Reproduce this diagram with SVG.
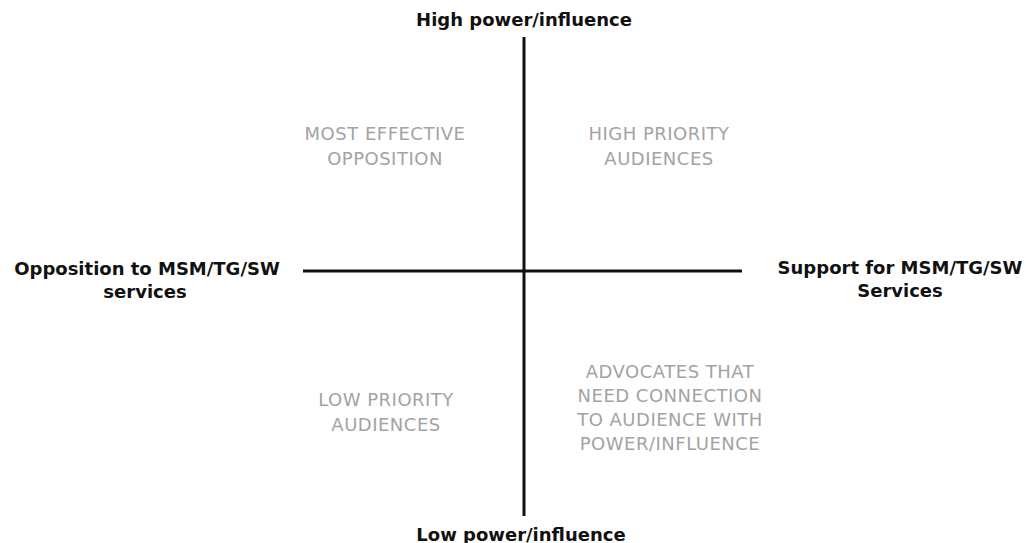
<svg xmlns="http://www.w3.org/2000/svg" width="1026" height="543" viewBox="0 0 1026 543">
<style>
.ax{font-family:"DejaVu Sans","Liberation Sans",sans-serif;font-weight:bold;font-size:18px;fill:#111;text-anchor:middle}
.q{font-family:"DejaVu Sans","Liberation Sans",sans-serif;font-size:18px;fill:#a3a3a3;text-anchor:middle;letter-spacing:0.5px}
.line{stroke:#111;stroke-width:3;fill:none}
</style>
<rect width="1026" height="543" fill="#fff"/>
<g id="connectors">
<line class="line" x1="524" y1="37" x2="524" y2="516"/>
<line class="line" x1="303" y1="271" x2="742" y2="271"/>
</g>
<g id="top-label"><text class="ax" x="524" y="26">High power/influence</text></g>
<g id="bottom-label"><text class="ax" x="521" y="541">Low power/influence</text></g>
<g id="left-label"><text class="ax" x="147" y="275">Opposition to MSM/TG/SW</text><text class="ax" x="145" y="298">services</text></g>
<g id="right-label"><text class="ax" x="900" y="274">Support for MSM/TG/SW</text><text class="ax" x="900" y="297">Services</text></g>
<g id="q-most-effective"><text class="q" x="385" y="140">MOST EFFECTIVE</text><text class="q" x="385" y="165">OPPOSITION</text></g>
<g id="q-high-priority"><text class="q" x="659" y="140">HIGH PRIORITY</text><text class="q" x="659" y="165">AUDIENCES</text></g>
<g id="q-low-priority"><text class="q" x="386" y="406">LOW PRIORITY</text><text class="q" x="386" y="431">AUDIENCES</text></g>
<g id="q-advocates"><text class="q" x="670" y="378">ADVOCATES THAT</text><text class="q" x="670" y="402">NEED CONNECTION</text><text class="q" x="670" y="426">TO AUDIENCE WITH</text><text class="q" x="670" y="450">POWER/INFLUENCE</text></g>
</svg>
